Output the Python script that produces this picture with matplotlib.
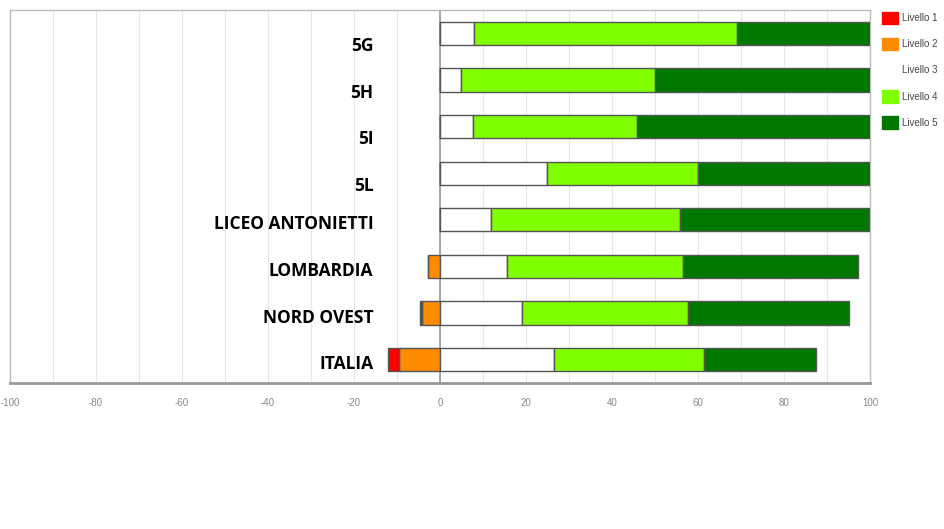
import matplotlib
matplotlib.use("Agg")
import matplotlib.pyplot as plt
from matplotlib.patches import Patch
import numpy as np

categories = ["5G", "5H", "5I", "5L", "LICEO ANTONIETTI", "LOMBARDIA", "NORD OVEST", "ITALIA"]
livello1 = [0.0, 0.0, 0.0, 0.0, 0.0, 0.0, 0.6, 2.5]
livello2 = [0.0, 0.0, 0.0, 0.0, 0.0, 2.8, 4.1, 9.5]
livello3 = [7.9, 4.9, 7.7, 24.9, 11.9, 15.6, 19.1, 26.5]
livello4 = [61.1, 45.0, 38.2, 35.0, 43.8, 40.8, 38.5, 35.0]
livello5 = [31.0, 50.1, 54.1, 40.1, 44.1, 40.8, 37.5, 26.0]
level_names = ["Livello 1", "Livello 2", "Livello 3", "Livello 4", "Livello 5"]
xticks = [-100, -80, -60, -40, -20, 0, 20, 40, 60, 80, 100]

colors = ["#ff0000", "#ff8c00", "#ffffff", "#80ff00", "#007800"]
edge = "#555555"

fig = plt.figure(figsize=(9.44, 5.29), dpi=100)
ax = fig.add_axes([0.0106, 0.276, 0.911, 0.705])

y = np.arange(len(categories))
h = 0.5
l1 = np.array(livello1); l2 = np.array(livello2)
l3 = np.array(livello3); l4 = np.array(livello4); l5 = np.array(livello5)

# negative side
ax.barh(y, -l2, left=0, height=h, color=colors[1], edgecolor=edge, linewidth=1, zorder=3)
ax.barh(y, -l1, left=-l2, height=h, color=colors[0], edgecolor=edge, linewidth=1, zorder=3)
# positive side
ax.barh(y, l3, left=0, height=h, color=colors[2], edgecolor=edge, linewidth=1, zorder=3)
ax.barh(y, l4, left=l3, height=h, color=colors[3], edgecolor=edge, linewidth=1, zorder=3)
ax.barh(y, l5, left=l3 + l4, height=h, color=colors[4], edgecolor=edge, linewidth=1, zorder=3)

ax.set_xlim(-100, 100)
ax.set_ylim(len(categories) - 0.5, -0.5)
ax.set_yticks([])
ax.set_xticks(xticks)
ax.set_xticklabels([str(t) for t in xticks], fontsize=7, color="#888888",
                   family=["Liberation Sans", "DejaVu Sans"])
ax.tick_params(axis="x", length=0, pad=11)
ax.set_xticks(np.arange(-90, 100, 10), minor=True)
ax.tick_params(axis="x", which="minor", length=0)
ax.grid(axis="x", which="both", color="#e6e6e6", linewidth=0.8, zorder=0)
ax.axvline(0, color="#999999", linewidth=1.2, zorder=2)

for s in ["left", "right", "top"]:
    ax.spines[s].set_color("#bbbbbb")
    ax.spines[s].set_linewidth(1)
ax.spines["bottom"].set_color("#999999")
ax.spines["bottom"].set_linewidth(2)

for i, c in enumerate(categories):
    off = 0.27 if i < 4 else 0.1
    ax.text(-15.5, i + off, c, ha="right", va="center", fontsize=12.5, fontweight="bold",
            family=["Open Sans", "DejaVu Sans"], color="#000000", zorder=4)

handles = [Patch(facecolor=col, edgecolor=("none" if col == "#ffffff" else col)) for col in colors]
leg = fig.legend(handles, level_names, loc="upper left", bbox_to_anchor=(0.930, 0.985),
                 frameon=False, handlelength=1.7, handleheight=1.6,
                 labelspacing=1.4, handletextpad=0.35, borderaxespad=0,
                 prop={"family": ["Liberation Sans", "DejaVu Sans"], "size": 7})
for t in leg.get_texts():
    t.set_color("#444444")

fig.savefig("out.png", dpi=100)
